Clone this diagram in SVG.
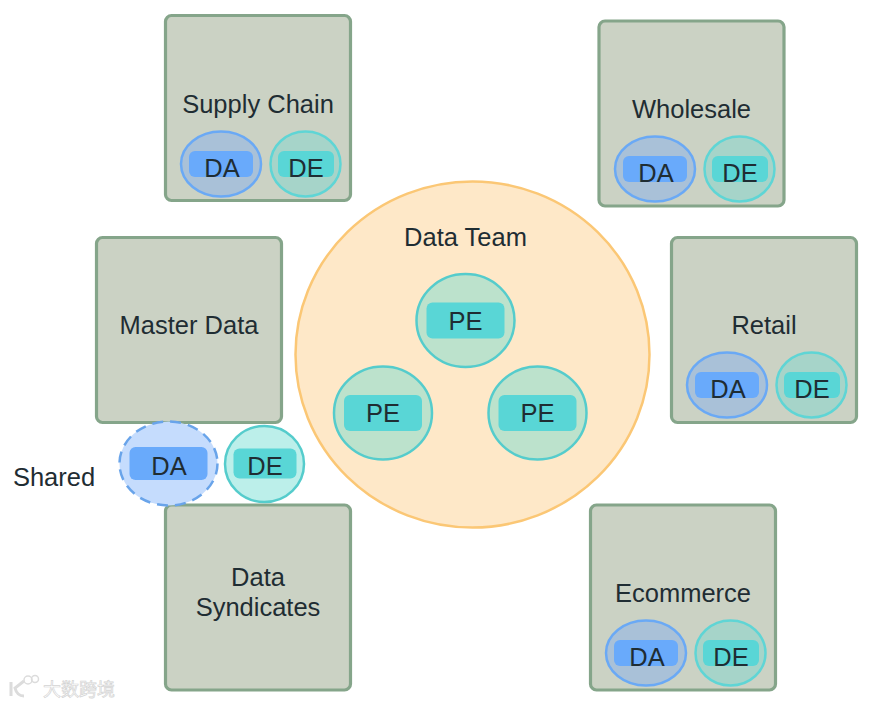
<svg xmlns="http://www.w3.org/2000/svg" width="875" height="706" viewBox="0 0 875 706">
<style>
text{font-family:"Liberation Sans",Arial,sans-serif;font-size:25.500px;fill:#1f2d33;text-anchor:middle}
.box{fill:#cbd2c4;stroke:#85a58a;stroke-width:3.200}
.da{fill:#a9c1d8;stroke:#6aa9f5;stroke-width:2.500}
.de{fill:#a6d4c9;stroke:#5fd5d5;stroke-width:2.500}
.dr{fill:#69aafb}
.er{fill:#59d6d6}
.pe{fill:#bce2cc;stroke:#55cccc;stroke-width:2.500}
.wm{font-family:"Noto Sans CJK SC",sans-serif;font-size:18px;fill:#fff;stroke:#d4d4d4;stroke-width:.7;text-anchor:start}
</style>
<defs>
<g id="pair">
<ellipse class="da" cx="56" cy="32" rx="40" ry="32.500"/>
<rect class="dr" x="24" y="19" width="64" height="26" rx="6"/>
<text x="57" y="45">DA</text>
<ellipse class="de" cx="140.500" cy="32" rx="35" ry="32.500"/>
<rect class="er" x="113" y="19" width="56" height="26" rx="6"/>
<text x="141" y="45">DE</text>
</g>
<g id="pe">
<ellipse class="pe" cx="0" cy="0" rx="49" ry="46.500"/>
<rect class="er" x="-39" y="-18" width="78" height="36" rx="6"/>
<text x="0" y="9">PE</text>
</g>
</defs>
<g id="connectors"/>
<g id="data-team">
<ellipse cx="472.500" cy="354.500" rx="177" ry="173" fill="#fee8c8" stroke="#fbc775" stroke-width="2.500"/>
<text x="465.500" y="246">Data Team</text>
</g>
<g id="pe-top"><use href="#pe" x="465.500" y="320.500"/></g>
<g id="pe-left"><use href="#pe" x="383" y="413"/></g>
<g id="pe-right"><use href="#pe" x="537.500" y="413"/></g>
<g id="supply-chain">
<rect class="box" x="165.500" y="15.500" width="185" height="185" rx="6"/>
<text x="258" y="113">Supply Chain</text>
<use href="#pair" x="165" y="132"/>
</g>
<g id="wholesale">
<rect class="box" x="599" y="21" width="185" height="185" rx="6"/>
<text x="691.500" y="118">Wholesale</text>
<use href="#pair" x="599" y="137"/>
</g>
<g id="master-data">
<rect class="box" x="96.500" y="237.500" width="185" height="185" rx="6"/>
<text x="189" y="334">Master Data</text>
</g>
<g id="retail">
<rect class="box" x="671.500" y="237.500" width="185" height="185" rx="6"/>
<text x="764" y="334">Retail</text>
<use href="#pair" x="671" y="353"/>
</g>
<g id="data-syndicates">
<rect class="box" x="165.500" y="505" width="185" height="185" rx="6"/>
<text x="258" y="586">Data</text>
<text x="258" y="616">Syndicates</text>
</g>
<g id="ecommerce">
<rect class="box" x="590.500" y="505" width="185" height="185" rx="6"/>
<text x="683" y="602">Ecommerce</text>
<use href="#pair" x="590" y="621"/>
</g>
<g id="shared">
<text x="54" y="486">Shared</text>
<ellipse cx="168.500" cy="463.500" rx="49" ry="42" fill="#c5dcfd" stroke="#69a4ea" stroke-width="2.500" stroke-dasharray="11 7"/>
<rect class="dr" x="129.500" y="447" width="78" height="33" rx="6"/>
<text x="169" y="475">DA</text>
<ellipse cx="264.500" cy="464" rx="39.500" ry="38" fill="#bcefea" stroke="#55cccc" stroke-width="2.500"/>
<rect class="er" x="233.500" y="448.500" width="63" height="30" rx="6"/>
<text x="265" y="475">DE</text>
</g>
<g id="watermark">
<text class="wm" x="43" y="696">大数跨境</text>
<path d="M11 682v14M24 681l-9 7q2 8 9 8" fill="none" stroke="#dcdcdc" stroke-width="3"/>
<circle cx="28" cy="680" r="4" fill="none" stroke="#dcdcdc" stroke-width="1.500"/>
<circle cx="35" cy="679" r="3.500" fill="none" stroke="#dcdcdc" stroke-width="1.500"/>
</g>
</svg>
